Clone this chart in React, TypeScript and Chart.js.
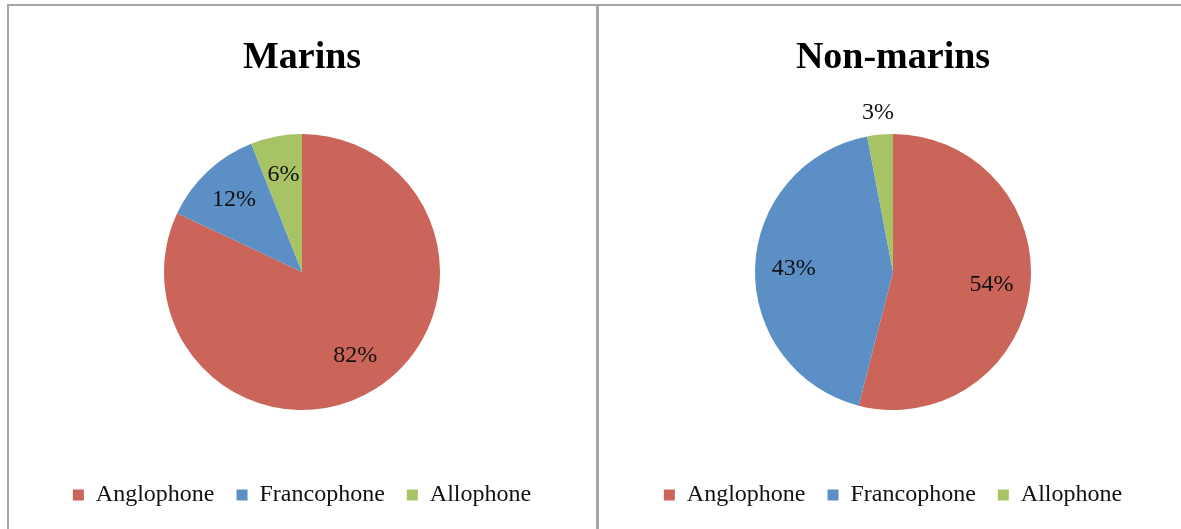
import React, { useEffect, useRef } from "react";
import { Chart, registerables } from "chart.js";

Chart.register(...registerables);

// Language groups and their shares (%) among marine and non-marine respondents
const categories = ["Anglophone", "Francophone", "Allophone"];
const marinsValues = [82, 12, 6];
const nonMarinsValues = [54, 43, 3];
const sliceColors = ["#CB6459", "#5B8FC6", "#A8C366"];
const chartTitles = ["Marins", "Non-marins"];

const SERIF = "'Liberation Serif', 'Times New Roman', Times, serif";
const CANVAS_W = 586;
const CANVAS_H = 523;

// Writes each slice's percentage on the slice; small slices get their label outside the pie
const percentLabels = {
  id: "percentLabels",
  afterDatasetsDraw(chart: any) {
    const { ctx } = chart;
    const meta = chart.getDatasetMeta(0);
    const values = chart.data.datasets[0].data as number[];
    ctx.save();
    ctx.font = `24px ${SERIF}`;
    ctx.fillStyle = "#111111";
    ctx.textAlign = "center";
    ctx.textBaseline = "middle";
    meta.data.forEach((arc: any, i: number) => {
      const { x, y, startAngle, endAngle, outerRadius } = arc.getProps(
        ["x", "y", "startAngle", "endAngle", "outerRadius"],
        true
      );
      const mid = (startAngle + endAngle) / 2;
      const r = values[i] < 5 ? outerRadius * 1.16 : outerRadius * 0.72;
      ctx.fillText(`${values[i]}%`, x + Math.cos(mid) * r, y + Math.sin(mid) * r);
    });
    ctx.restore();
  },
};

function PieChart({ title, values }: { title: string; values: number[] }) {
  const canvasRef = useRef<HTMLCanvasElement | null>(null);

  useEffect(() => {
    if (!canvasRef.current) return;
    const chart = new Chart(canvasRef.current, {
      type: "pie",
      data: {
        labels: categories,
        datasets: [
          {
            data: values,
            backgroundColor: sliceColors,
            borderWidth: 0,
          },
        ],
      },
      options: {
        responsive: false,
        animation: false,
        devicePixelRatio: 1,
        radius: 138,
        layout: { padding: { top: 0, bottom: 12, left: 0, right: 0 } },
        plugins: {
          title: {
            display: true,
            text: title,
            color: "#000000",
            font: { family: SERIF, size: 38, weight: "bold", lineHeight: 1.2 },
            padding: { top: 29, bottom: 2.4 },
          },
          legend: {
            display: true,
            position: "bottom",
            labels: {
              boxWidth: 11,
              boxHeight: 11,
              padding: 22,
              color: "#111111",
              font: { family: SERIF, size: 24 },
            },
          },
          tooltip: { enabled: false },
        },
      } as any,
      plugins: [percentLabels],
    });
    return () => chart.destroy();
  }, [title, values]);

  return (
    <canvas
      ref={canvasRef}
      width={CANVAS_W}
      height={CANVAS_H}
      style={{ display: "block", width: CANVAS_W, height: CANVAS_H }}
    />
  );
}

export default function App() {
  const panelBase: React.CSSProperties = {
    position: "absolute",
    top: 4,
    height: 560,
    boxSizing: "border-box",
    borderTop: "2px solid #a6a6a6",
    background: "#ffffff",
  };
  return (
    <div
      style={{
        position: "fixed",
        left: 0,
        top: 0,
        width: 1181,
        height: 529,
        overflow: "hidden",
        background: "#ffffff",
      }}
    >
      <div
        style={{
          ...panelBase,
          left: 7,
          width: 592,
          borderLeft: "2px solid #a6a6a6",
          borderRight: "3px solid #a6a6a6",
        }}
      >
        <PieChart title={chartTitles[0]} values={marinsValues} />
      </div>
      <div style={{ ...panelBase, left: 599, width: 594 }}>
        <div style={{ marginLeft: 1 }}>
          <PieChart title={chartTitles[1]} values={nonMarinsValues} />
        </div>
      </div>
    </div>
  );
}
